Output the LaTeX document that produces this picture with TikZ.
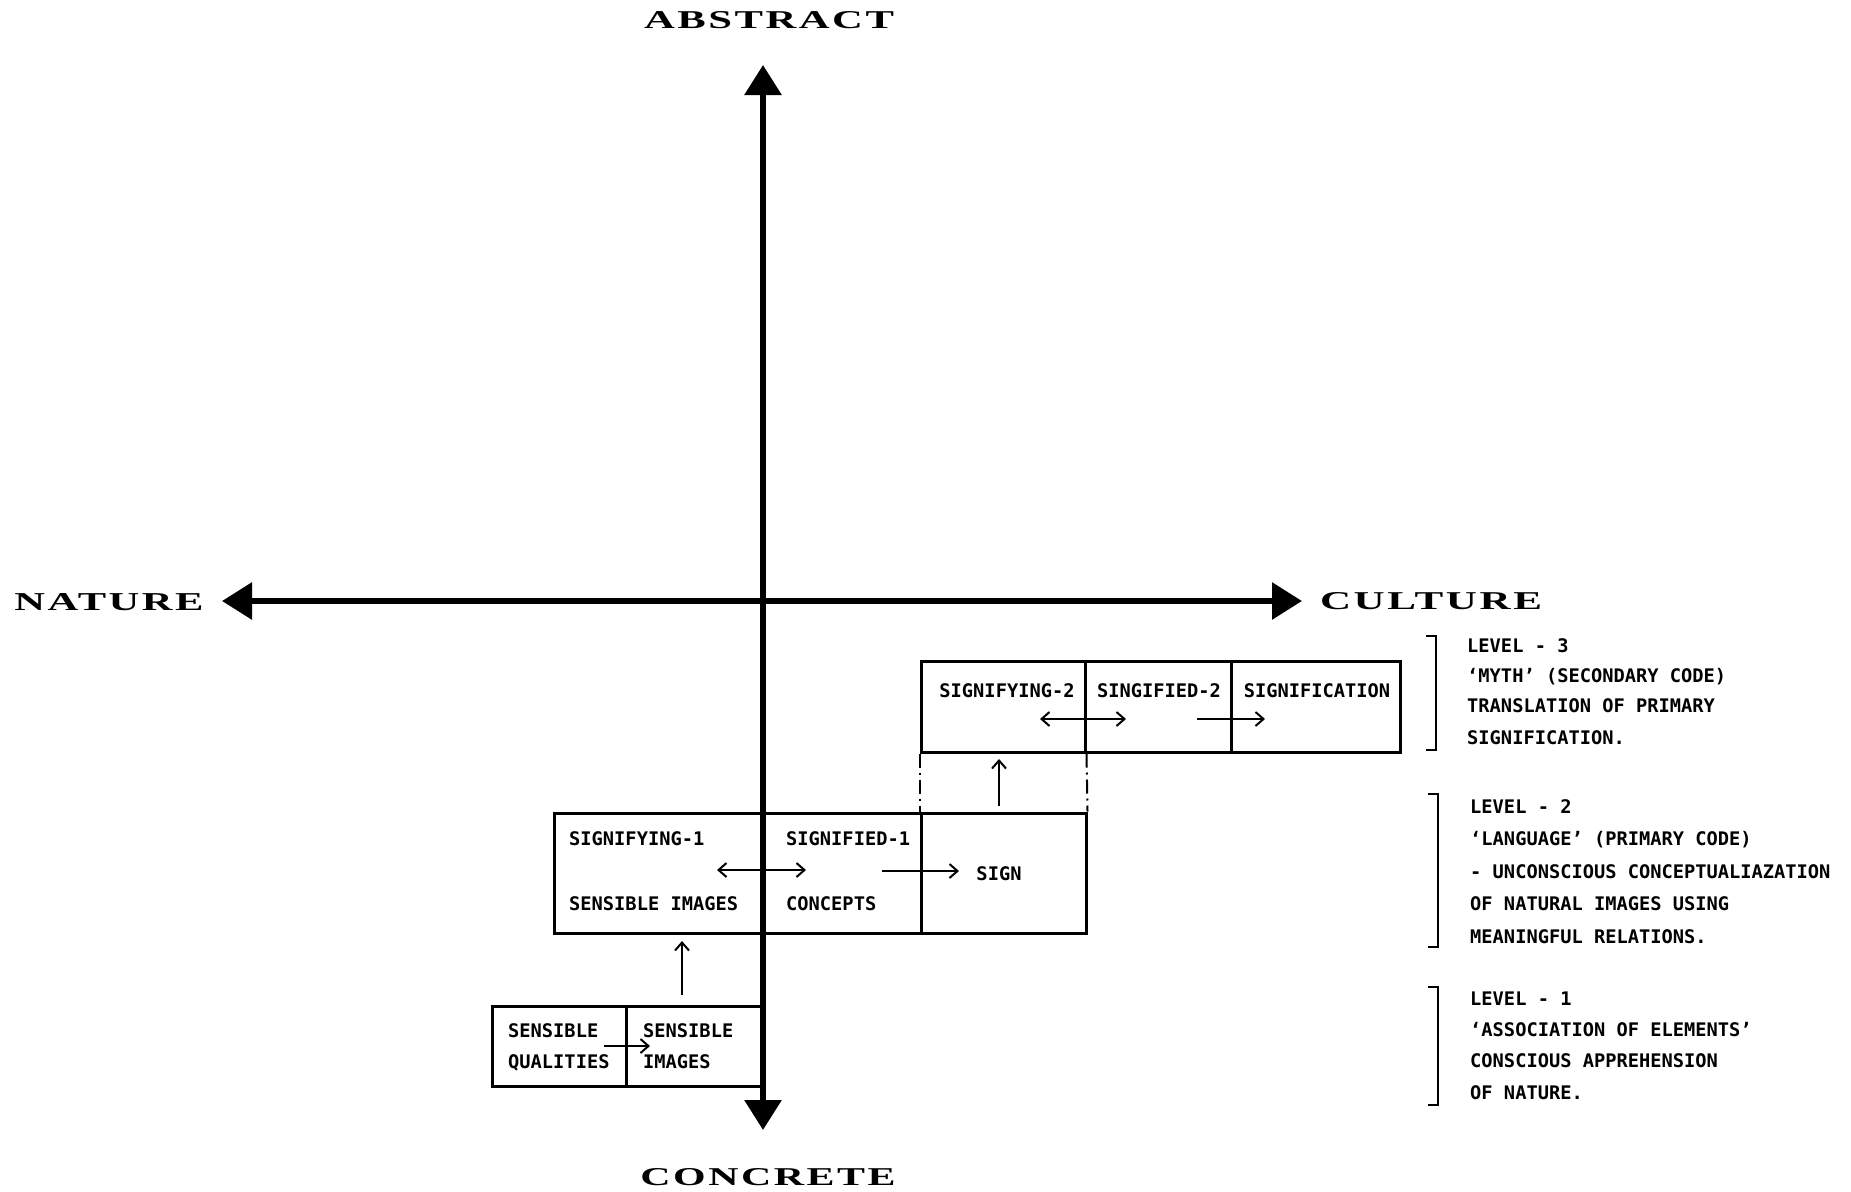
\documentclass[tikz,border=0pt]{standalone}
\usepackage{fontspec}
\usepackage{graphicx}
\setmonofont{DejaVu Sans Mono}
\newfontfamily\headfont[LetterSpace=6]{Liberation Serif}
\usetikzlibrary{arrows.meta}
\begin{document}
\begin{tikzpicture}[x=1pt,y=-1pt,
  cellbox/.style={draw, line width=3pt, inner sep=0pt, rectangle},
  txt/.style={font=\ttfamily\bfseries\fontsize{18.7}{22}\selectfont, inner sep=0pt, text height=13.6pt, text depth=0pt},
  ltxt/.style={txt, anchor=west},
  axisline/.style={line width=6pt, {Triangle[length=30pt,width=36pt]}-{Triangle[length=30pt,width=36pt]}},
  sarr/.style={line width=2pt, -{Straight Barb[length=8pt,width=14pt]}},
  darr/.style={line width=2pt, {Straight Barb[length=8pt,width=14pt]}-{Straight Barb[length=8pt,width=14pt]}},
  dd/.style={line width=2pt, dash pattern=on 14pt off 5pt on 2pt off 5pt},
  brk/.style={line width=2.5pt},
  head/.style={inner sep=0pt}
]
\useasboundingbox[fill=white] (0,0) rectangle (1851,1191);

% Level 3 cells
\node[cellbox, minimum width=164pt, minimum height=91pt] (c31) at (1003,706.5) {};
\node[cellbox, minimum width=146pt, minimum height=91pt] (c32) at (1158,706.5) {};
\node[cellbox, minimum width=169pt, minimum height=91pt] (c33) at (1315.5,706.5) {};
% Level 2 cells
\node[cellbox, minimum width=209pt, minimum height=120pt] (c21) at (658.5,873) {};
\node[cellbox, minimum width=158pt, minimum height=120pt] (c22) at (842,873) {};
\node[cellbox, minimum width=165pt, minimum height=120pt] (c23) at (1003.5,873) {};
% Level 1 cells
\node[cellbox, minimum width=134pt, minimum height=80pt] (c11) at (559,1046) {};
\node[cellbox, minimum width=137pt, minimum height=80pt] (c12) at (694.5,1046) {};

% dash-dot connectors between level 3 and level 2
\draw[dd] (c31.south west) -- (c23.north west);
\draw[dd] (c31.south east) -- (c23.north east);

% axes
\coordinate (axT) at (763,65);
\coordinate (axB) at (763,1130);
\coordinate (axL) at (222,601);
\coordinate (axR) at (1302,601);
\draw[axisline] (axB) -- (axT);
\draw[axisline] (axL) -- (axR);

% headings
\node[head] (abs) at (769,20) {\resizebox{250pt}{17pt}{\headfont\bfseries ABSTRACT}};
\node[head] (con) at (768,1177) {\resizebox{255pt}{17pt}{\headfont\bfseries CONCRETE}};
\node[head] (nat) at (109,602) {\resizebox{189pt}{17pt}{\headfont\bfseries NATURE}};
\node[head] (cul) at (1431,601) {\resizebox{222pt}{17pt}{\headfont\bfseries CULTURE}};

% Level 3 texts
\node[txt] (t31) at (1007,691) {SIGNIFYING-2};
\node[txt] (t32) at (1159,691) {SINGIFIED-2};
\node[txt] (t33) at (1317,691) {SIGNIFICATION};
\coordinate (a31) at (1040,719);
\coordinate (a32) at (1126,719);
\coordinate (a33) at (1197,719);
\coordinate (a34) at (1265,719);
\draw[darr] (a31) -- (a32);
\draw[sarr] (a33) -- (a34);

% Level 2 texts
\node[ltxt] (t21) at (569,839) {SIGNIFYING-1};
\node[ltxt] (t22) at (569,904) {SENSIBLE IMAGES};
\node[ltxt] (t23) at (786,839) {SIGNIFIED-1};
\node[ltxt] (t24) at (786,904) {CONCEPTS};
\node[txt] (t25) at (999,874) {SIGN};
\coordinate (a21) at (717,870);
\coordinate (a22) at (806,870);
\coordinate (a23) at (882,871);
\coordinate (a24) at (959,871);
\draw[darr] (a21) -- (a22);
\draw[sarr] (a23) -- (a24);

% Level 1 texts
\node[ltxt] (t11) at (508,1031) {SENSIBLE};
\node[ltxt] (t12) at (508,1062) {QUALITIES};
\node[ltxt] (t13) at (643,1031) {SENSIBLE};
\node[ltxt] (t14) at (643,1062) {IMAGES};
\coordinate (a11) at (604,1046);
\coordinate (a12) at (650,1046);
\draw[sarr] (a11) -- (a12);

% up arrows between levels
\coordinate (u1) at (682,995);
\coordinate (u2) at (682,941);
\draw[sarr] (u1) -- (u2);
\coordinate (u3) at (999,806);
\coordinate (u4) at (999,759);
\draw[sarr] (u3) -- (u4);

% brackets
\coordinate (b3a) at (1426,636); \coordinate (b3b) at (1436,636);
\coordinate (b3c) at (1436,750); \coordinate (b3d) at (1426,750);
\draw[brk] (b3a) -- (b3b) -- (b3c) -- (b3d);
\coordinate (b2a) at (1428,794); \coordinate (b2b) at (1438,794);
\coordinate (b2c) at (1438,947); \coordinate (b2d) at (1428,947);
\draw[brk] (b2a) -- (b2b) -- (b2c) -- (b2d);
\coordinate (b1a) at (1428,987); \coordinate (b1b) at (1438,987);
\coordinate (b1c) at (1438,1105); \coordinate (b1d) at (1428,1105);
\draw[brk] (b1a) -- (b1b) -- (b1c) -- (b1d);

% level descriptions
\node[ltxt] (l3a) at (1467,646) {LEVEL - 3};
\node[ltxt] (l3b) at (1467,676) {‘MYTH’ (SECONDARY CODE)};
\node[ltxt] (l3c) at (1467,706) {TRANSLATION OF PRIMARY};
\node[ltxt] (l3d) at (1467,738) {SIGNIFICATION.};

\node[ltxt] (l2a) at (1470,807) {LEVEL - 2};
\node[ltxt] (l2b) at (1470,839) {‘LANGUAGE’ (PRIMARY CODE)};
\node[ltxt] (l2c) at (1470,872) {- UNCONSCIOUS CONCEPTUALIAZATION};
\node[ltxt] (l2d) at (1470,904) {OF NATURAL IMAGES USING};
\node[ltxt] (l2e) at (1470,937) {MEANINGFUL RELATIONS.};

\node[ltxt] (l1a) at (1470,999) {LEVEL - 1};
\node[ltxt] (l1b) at (1470,1030) {‘ASSOCIATION OF ELEMENTS’};
\node[ltxt] (l1c) at (1470,1061) {CONSCIOUS APPREHENSION};
\node[ltxt] (l1d) at (1470,1093) {OF NATURE.};
\end{tikzpicture}
\end{document}
